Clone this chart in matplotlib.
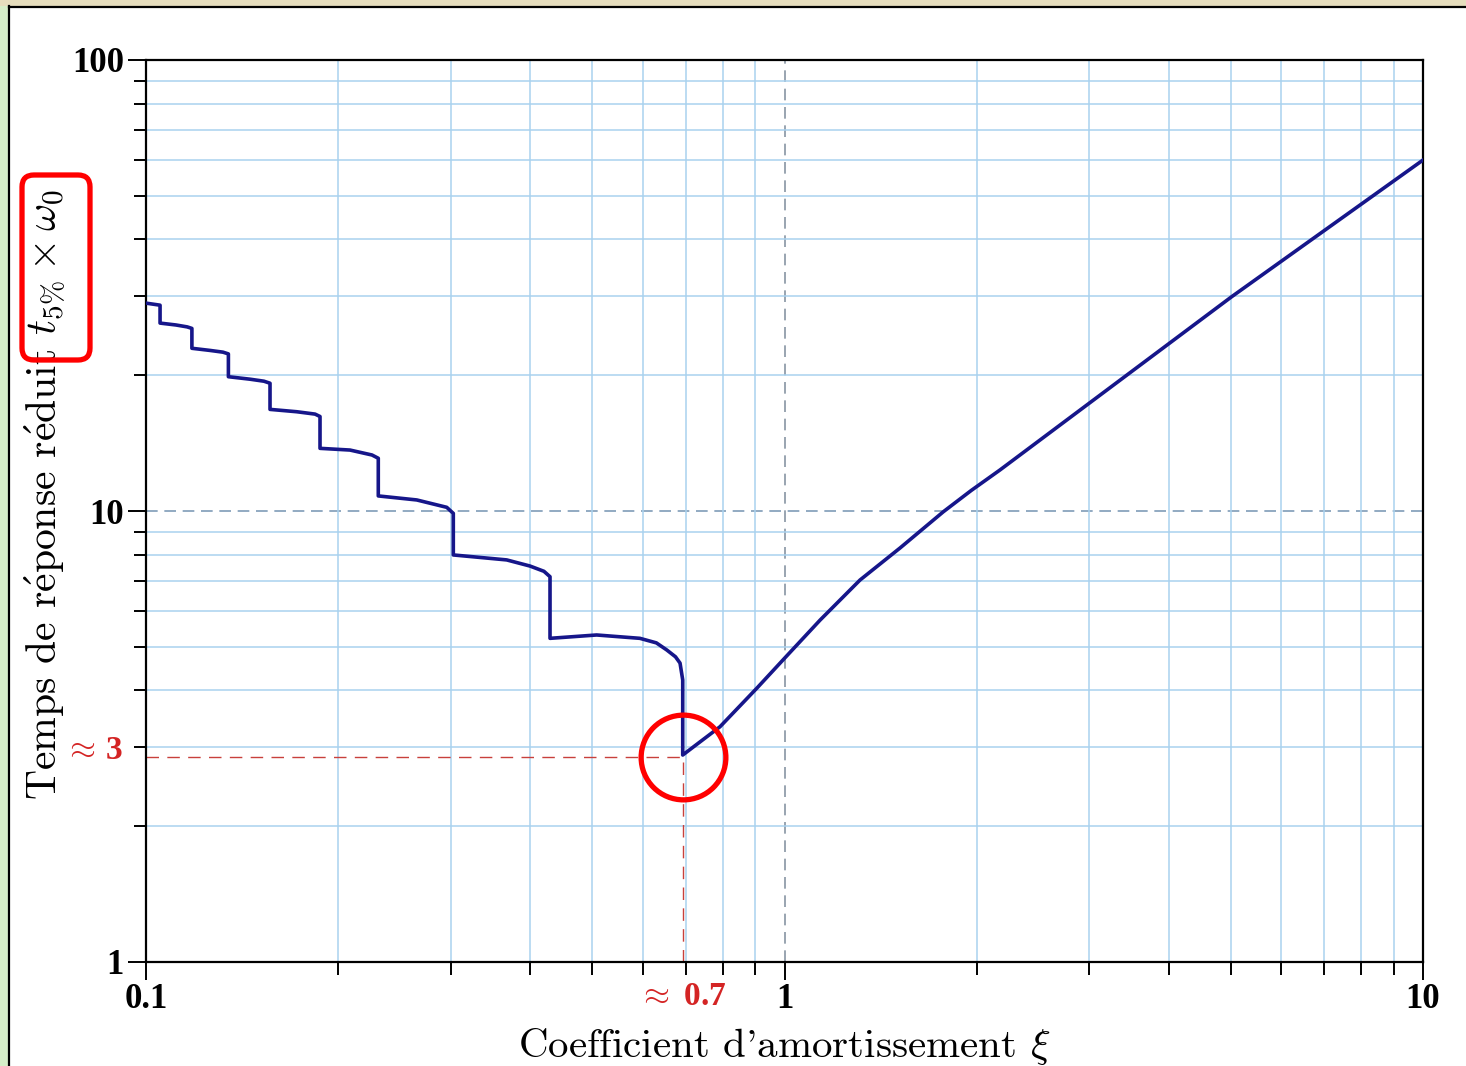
import matplotlib
matplotlib.use("Agg")
import matplotlib.pyplot as plt
from matplotlib.patches import Rectangle, FancyBboxPatch
from matplotlib.lines import Line2D
from matplotlib.transforms import IdentityTransform
from matplotlib.ticker import FixedLocator, NullFormatter

plt.rcParams['mathtext.fontset'] = 'cm'
plt.rcParams['axes.formatter.use_mathtext'] = True

# values: damping ratio xi -> reduced response time t5% * w0
xi_under = [0.100, 0.1052, 0.1052, 0.1114, 0.1160, 0.1180, 0.1180, 0.1260, 0.1320,
            0.1346, 0.1346, 0.1455, 0.1530, 0.1564, 0.1564, 0.1722, 0.1840, 0.1873,
            0.1873, 0.2087, 0.2259, 0.2311, 0.2311, 0.2655, 0.2958, 0.3029, 0.3029,
            0.3672, 0.3994, 0.4200, 0.4293, 0.4293, 0.5079, 0.5937, 0.6300, 0.6539,
            0.6750, 0.6861, 0.6928, 0.6928]
t_under = [28.9, 28.6, 26.1, 25.85, 25.6, 25.4, 22.95, 22.7, 22.5,
           22.3, 19.85, 19.6, 19.4, 19.2, 16.8, 16.6, 16.4, 16.2,
           13.77, 13.65, 13.31, 13.09, 10.80, 10.58, 10.19, 9.88, 7.99,
           7.79, 7.55, 7.35, 7.15, 5.22, 5.31, 5.22, 5.10, 4.92,
           4.75, 4.60, 4.22, 2.877]

xi_over = [0.6928, 0.7925, 0.9048, 1.0, 1.137, 1.313, 1.517, 1.773, 1.96, 2.175,
           2.767, 5.017, 10.0]
t_over = [2.877, 3.324, 4.045, 4.714, 5.73, 7.03, 8.28, 9.96, 11.1, 12.33,
          15.91, 29.87, 60.0]

xi_min = 0.6928
t_min = 2.85

x_major = [0.1, 1, 10]
x_major_labels = ['0.1', '1', '10']
y_major = [1, 10, 100]
y_major_labels = ['1', '10', '100']

W, H = 1466, 1066
fig = plt.figure(figsize=(W / 100, H / 100), dpi=100, facecolor='white')

# page background strips and frame
fig.add_artist(Rectangle((0, 1 - 6 / H), 1, 6 / H, transform=fig.transFigure,
                         facecolor='#e6ddbd', edgecolor='none', zorder=0))
fig.add_artist(Rectangle((0, 0), 8 / W, 1 - 6 / H, transform=fig.transFigure,
                         facecolor='#d6eec8', edgecolor='none', zorder=0))
fig.add_artist(Line2D([8.5 / W, 8.5 / W], [0, 1 - 6 / H], transform=fig.transFigure,
                      color='black', lw=1.6))
fig.add_artist(Line2D([8.5 / W, 1], [1 - 6.5 / H, 1 - 6.5 / H], transform=fig.transFigure,
                      color='black', lw=1.6))

ax = fig.add_axes([146 / W, 1 - 962 / H, (1423 - 146) / W, (962 - 60) / H])
ax.set_xscale('log')
ax.set_yscale('log')
ax.set_xlim(0.1, 10)
ax.set_ylim(1, 100)

tick_font = dict(fontfamily='Liberation Serif', fontweight='bold', fontsize=25)
ax.set_xticks(x_major)
ax.set_xticklabels(x_major_labels, **tick_font)
ax.set_yticks(y_major)
ax.set_yticklabels(y_major_labels, **tick_font)
ax.xaxis.set_minor_locator(FixedLocator([0.2, 0.3, 0.4, 0.5, 0.6, 0.7, 0.8, 0.9,
                                         2, 3, 4, 5, 6, 7, 8, 9]))
ax.yaxis.set_minor_locator(FixedLocator([2, 3, 4, 5, 6, 7, 8, 9,
                                         20, 30, 40, 50, 60, 70, 80, 90]))
ax.xaxis.set_minor_formatter(NullFormatter())
ax.yaxis.set_minor_formatter(NullFormatter())
ax.tick_params(which='major', direction='out', length=13, width=1.4, pad=2)
ax.tick_params(which='minor', direction='out', length=9, width=1.4)
ax.tick_params(axis='y', which='major', pad=3)

for sp in ax.spines.values():
    sp.set_linewidth(1.6)
    sp.set_color('black')

ax.grid(True, which='minor', color='#a9d2ef', lw=1.1)
ax.grid(False, which='major')
ax.axhline(10, color='#7f9cb8', lw=1.2, ls=(0, (7, 4)), zorder=1)
ax.axvline(1, color='#8795a3', lw=1.2, ls=(0, (7, 4)), zorder=1)

# minimum marker lines
ax.plot([0.1, xi_min], [t_min, t_min], color='#c8403c', lw=1.0, ls=(0, (9, 6)), zorder=2)
ax.plot([xi_min, xi_min], [1, t_min], color='#c8403c', lw=1.0, ls=(0, (9, 6)), zorder=2)

xi = xi_under + xi_over[1:]
t = t_under + t_over[1:]
ax.plot(xi, t, color='#16168a', lw=2.6, zorder=3, solid_joinstyle='round')

# red highlight circle around the minimum
ax.plot([xi_min], [t_min], marker='o', markersize=61, mfc='none', mec='#ff0000',
        mew=3.8, zorder=4, clip_on=False)

red_font = dict(fontfamily='Liberation Serif', fontweight='bold', fontsize=24, color='#d42424')
ax.annotate(r'$\approx\!$ 3', xy=(0, 2.95), xycoords=('axes fraction', 'data'),
            xytext=(-17, 0), textcoords='offset points', ha='right', va='center', **red_font)
ax.annotate(r'$\approx$ 0.7', xy=(xi_min, 0), xycoords=('data', 'axes fraction'),
            xytext=(0, -25), textcoords='offset points', ha='center', va='center', **red_font)

fig.text(784.5 / W, (H - 1057) / H, r"Coefficient d'amortissement $\xi$",
         family='cmr10', fontsize=29.5, ha='center', va='baseline')
fig.text(45 / W, 1 - 495 / H,
         r"Temps de r$\acute{\mathrm{e}}$ponse r$\acute{\mathrm{e}}$duit $t_{5\%}\times\omega_0$",
         family='cmr10', fontsize=30, ha='center', va='center', rotation=90)

# red rounded box around the symbol part of the y label
fig.add_artist(FancyBboxPatch((22, H - 360), 68, 185,
                              boxstyle='round,pad=0,rounding_size=12',
                              transform=IdentityTransform(), facecolor='none',
                              edgecolor='#ff0000', lw=3.8, zorder=5))

fig.savefig('out.png', dpi=100, facecolor='white')
